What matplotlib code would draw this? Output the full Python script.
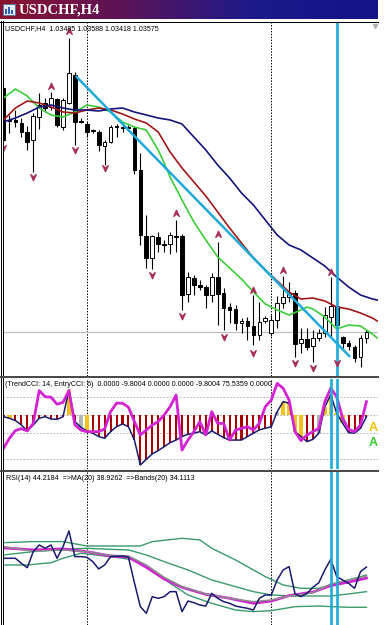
import numpy as np
import matplotlib.pyplot as plt
from matplotlib.path import Path
from matplotlib.lines import Line2D
from matplotlib.patches import Rectangle
from matplotlib.colors import LinearSegmentedColormap

W, H = 386, 625

# ---------------- data ----------------
opens = [1.0601, 1.0569, 1.0569, 1.0566, 1.0557, 1.0549, 1.0572, 1.0586, 1.0582, 1.0590,
         1.0562, 1.0586, 1.0614, 1.0568, 1.0565, 1.0559, 1.0557, 1.0543, 1.0547, 1.0563,
         1.0562, 1.0562, 1.0561, 1.0519, 1.0453, 1.0431, 1.0452, 1.0445, 1.0445, 1.0453,
         1.0453, 1.0395, 1.0411, 1.0404, 1.0402, 1.0394, 1.0412, 1.0396, 1.0382, 1.0380,
         1.0366, 1.0368, 1.0363, 1.0354, 1.0368, 1.0356, 1.0369, 1.0386, 1.0392, 1.0396,
         1.0346, 1.0350, 1.0343, 1.0351, 1.0356, 1.0372, 1.0383, 1.0352, 1.0346, 1.0342,
         1.0332, 1.0351]
highs = [1.0606, 1.0574, 1.0579, 1.0571, 1.0563, 1.0576, 1.0596, 1.0591, 1.0597, 1.0591,
         1.0591, 1.0651, 1.0617, 1.0571, 1.0568, 1.0560, 1.0559, 1.0549, 1.0564, 1.0565,
         1.0564, 1.0564, 1.0563, 1.0536, 1.0474, 1.0454, 1.0457, 1.0449, 1.0457, 1.0469,
         1.0455, 1.0417, 1.0414, 1.0409, 1.0404, 1.0416, 1.0447, 1.0401, 1.0386, 1.0384,
         1.0371, 1.0372, 1.0394, 1.0387, 1.0373, 1.0374, 1.0393, 1.0413, 1.0407, 1.0399,
         1.0361, 1.0361, 1.0359, 1.0360, 1.0382, 1.0412, 1.0386, 1.0353, 1.0349, 1.0344,
         1.0354, 1.0359]
lows = [1.0546, 1.0556, 1.0562, 1.0552, 1.0539, 1.0517, 1.0560, 1.0577, 1.0579, 1.0562,
        1.0559, 1.0585, 1.0544, 1.0566, 1.0552, 1.0556, 1.0538, 1.0524, 1.0546, 1.0552,
        1.0557, 1.0558, 1.0515, 1.0444, 1.0421, 1.0420, 1.0437, 1.0437, 1.0435, 1.0437,
        1.0379, 1.0387, 1.0394, 1.0399, 1.0381, 1.0387, 1.0364, 1.0359, 1.0366, 1.0359,
        1.0356, 1.0349, 1.0344, 1.0349, 1.0366, 1.0353, 1.0361, 1.0381, 1.0387, 1.0332,
        1.0336, 1.0339, 1.0327, 1.0348, 1.0352, 1.0353, 1.0334, 1.0341, 1.0339, 1.0327,
        1.0322, 1.0346]
closes = [1.0549, 1.0568, 1.0567, 1.0557, 1.0547, 1.0573, 1.0584, 1.0581, 1.0591, 1.0564,
          1.0589, 1.0616, 1.0567, 1.0567, 1.0557, 1.0558, 1.0544, 1.0547, 1.0562, 1.0562,
          1.0561, 1.0561, 1.0519, 1.0454, 1.0431, 1.0453, 1.0445, 1.0444, 1.0454, 1.0452,
          1.0394, 1.0412, 1.0404, 1.0402, 1.0394, 1.0412, 1.0395, 1.0381, 1.0379, 1.0366,
          1.0368, 1.0363, 1.0354, 1.0367, 1.0371, 1.0369, 1.0386, 1.0392, 1.0396, 1.0345,
          1.0350, 1.0342, 1.0351, 1.0356, 1.0374, 1.0383, 1.0364, 1.0346, 1.0343, 1.0331,
          1.0351, 1.0357]

# moving averages on price
fast_idx = [0, 2, 4, 6, 8, 10, 12, 14, 16, 18, 20, 22, 24, 26, 27, 28, 30, 32, 34, 36, 38,
            40, 42, 44, 46, 48, 50, 51, 52, 54, 56, 58, 60, 62, 62.8]
fast_ma = [1.0591, 1.0600, 1.0593, 1.0581, 1.0574, 1.0572, 1.0577, 1.0584, 1.0582, 1.0577,
           1.0567, 1.0562, 1.0559, 1.0539, 1.0526, 1.0512, 1.0489, 1.0467, 1.0449, 1.0432,
           1.0421, 1.0410, 1.0397, 1.0385, 1.0379, 1.0374, 1.0379, 1.0382, 1.0380, 1.0372,
           1.0360, 1.0364, 1.0363, 1.0355, 1.0351]
slow_idx = [0, 2, 4, 6, 8, 10, 12, 14, 16, 18, 20, 22, 24, 26, 28, 30, 32, 34, 36, 38, 40,
            42, 44, 46, 48, 50, 52, 54, 56, 58, 60, 62, 62.8]
mid_ma = [1.0569, 1.0581, 1.0588, 1.0586, 1.0582, 1.0577, 1.0576, 1.0579, 1.0581, 1.0579,
          1.0575, 1.0570, 1.0566, 1.0557, 1.0537, 1.0521, 1.0507, 1.0493, 1.0477, 1.0461,
          1.0446, 1.0431, 1.0419, 1.0408, 1.0397, 1.0390, 1.0391, 1.0388, 1.0382, 1.0380,
          1.0376, 1.0371, 1.0368]
slow_ma = [1.0567, 1.0571, 1.0576, 1.0582, 1.0584, 1.0581, 1.0579, 1.0579, 1.0578, 1.0580,
           1.0581, 1.0577, 1.0574, 1.0571, 1.0569, 1.0565, 1.0552, 1.0539, 1.0524, 1.0511,
           1.0496, 1.0484, 1.0469, 1.0454, 1.0444, 1.0439, 1.0431, 1.0423, 1.0412, 1.0402,
           1.0394, 1.0390, 1.0389]

frac_up_bars = [8, 11, 29, 36, 42, 47, 55]
frac_up = [1.0603, 1.0658, 1.0476, 1.04555, 1.03995, 1.04195, 1.0417]
frac_dn_bars = [0, 5, 12, 17, 25, 30, 37, 42, 49, 52, 56]
frac_dn = [1.0541, 1.0512, 1.0539, 1.0521, 1.0414, 1.0373, 1.03525, 1.0336, 1.0326, 1.03215, 1.0326]

trend_bars = [12.3, 58.1]
trend_price = [1.0612, 1.0333]
bid = 1.03575
period_seps = [14, 45]
cyan_main = [56]
cyan_sub = [55, 56]

# CCI panel
trend_cci = [-10, -19, -32, -57, -91, -57, -19, -10, -23, -25,
             -10, 142, -38, -70, -91, -104, -123, -133, -95, -67,
             -51, -67, -143, -285, -253, -222, -203, -181, -158, -143,
             -123, -110, -104, -95, -114, -91, -110, -129, -143, -143,
             -143, -123, -104, -85, -76, -67, 19, 76, 67, -95,
             -123, -152, -139, -104, 47, 114, 10, -47, -101, -104,
             -76, -10]
entry_cci = [-190, -133, -89, -78, -91, -48, 139, 104, 101, 61,
             72, 139, -57, -86, -95, -95, -95, -80, 19, 67,
             67, 44, -38, -114, -86, -57, -38, 0, 47, 114,
             -200, -143, -95, -38, -114, 19, -48, -48, -143, -86,
             -76, -67, -86, -48, 47, 85, 180, 152, 85, -95,
             -146, -114, -95, -76, 76, 152, 104, -19, -82, -95,
             -57, 76]
hist_state = "ry" + "r" * 9 + "yrgy" + "r" * 31 + "gyyyyrrgyyyy" + "r" * 4
cci_levels = [100, 0, -100, -250]

# RSI panel
rsi = [48.4, 48.4, 48.4, 46.0, 43.9, 51.6, 54.8, 53.2, 54.8, 48.4,
       54.0, 61.5, 49.2, 49.2, 48.9, 46.8, 43.3, 45.2, 49.2, 49.4,
       49.5, 48.9, 36.7, 25.2, 22.0, 30.0, 29.2, 30.0, 32.4, 32.4,
       22.8, 27.9, 27.1, 26.0, 25.5, 31.6, 29.2, 27.6, 26.8, 25.5,
       24.9, 24.4, 23.6, 29.2, 30.8, 30.8, 38.0, 42.8, 44.4, 31.3,
       30.0, 31.6, 34.5, 36.7, 42.8, 47.9, 39.6, 38.0, 36.4, 34.0,
       42.0, 44.2]
rsi_ma_idx = [0, 5, 10, 14, 18, 21, 24, 27, 30, 34, 38, 42, 45, 48, 52, 55, 58, 61]
rsi_ma = [53.4, 52.4, 52.9, 51.6, 49.5, 49.0, 44.1, 38.5, 34.5, 31.1, 29.2, 26.8, 27.9,
          30.5, 32.2, 35.3, 37.0, 38.9]
rsi_base = [54.0, 51.8, 52.4, 51.6, 49.8, 49.5, 45.2, 39.3, 34.8, 31.3, 29.2, 27.6, 28.4,
            30.3, 31.9, 36.1, 38.0, 39.9]
up_idx = [0, 5, 10, 14, 18, 23, 25, 30, 33, 35, 39, 42, 44, 47, 50, 53, 55, 58, 61]
band_up = [55.9, 56.4, 56.4, 54.3, 54.3, 54.3, 56.4, 58.0, 57.2, 53.2, 47.6, 42.8, 39.6,
           35.6, 34.0, 34.0, 35.6, 38.0, 40.4]
md_idx = [0, 5, 10, 14, 18, 21, 24, 27, 31, 35, 39, 42, 45, 49, 53, 55, 58, 61]
band_md = [50.0, 51.6, 52.7, 53.2, 52.7, 52.4, 50.0, 46.8, 42.8, 38.0, 34.8, 32.4, 30.8,
           30.3, 30.3, 30.3, 31.3, 32.4]
lo_idx = [0, 4, 8, 10, 13, 18, 22, 25, 28, 31, 35, 39, 42, 45, 49, 53, 55, 58, 61]
band_lo = [45.2, 45.2, 46.3, 48.4, 50.8, 49.2, 47.6, 42.8, 36.4, 30.8, 26.8, 23.6, 22.8,
           23.3, 25.2, 25.5, 25.2, 24.9, 24.9]

header_main = "USDCHF,H4  1.03485 1.03588 1.03418 1.03575"
header_cci = "(TrendCCI: 14, EntryCCI: 6)  0.0000 -9.8004 0.0000 0.0000 -9.8004 75.5359 0.0000"
header_rsi = "RSI(14) 44.2184  =>MA(20) 38.9262  =>Bands(20) 34.1113"

# ---------------- drawing ----------------
small_font = 'Liberation Sans'
CYAN = '#1fa9d9'
XLIM = (-0.084, 62.94)

fig = plt.figure(figsize=(W / 100, H / 100), dpi=100)
fig.patch.set_facecolor('white')


def px_axes(x0, y0, x1, y1):
    ax = fig.add_axes([x0 / W, 1 - y1 / H, (x1 - x0) / W, (y1 - y0) / H])
    ax.set_axis_off()
    return ax


def fig_line(xs, ys, color, lw_px):
    fig.add_artist(Line2D([x / W for x in xs], [1 - y / H for y in ys],
                          transform=fig.transFigure, color=color, lw=lw_px * 0.72))


# title bar
tax = px_axes(0, 0, 378, 19)
grad = LinearSegmentedColormap.from_list('tb', ['#8a1230', '#5a1458', '#1c1a8a', '#141488'])
tax.imshow(np.linspace(0, 1, 256)[None, :], cmap=grad, aspect='auto', extent=(0, 378, 19, 0))
tax.set_xlim(0, 378)
tax.set_ylim(19, 0)
tax.add_patch(Rectangle((3, 4), 12, 11, facecolor='#e4ecf6', edgecolor='#5070a8', lw=0.6))
tax.add_patch(Rectangle((5, 9), 2, 5, facecolor='#3060c0', lw=0))
tax.add_patch(Rectangle((8, 7), 2, 7, facecolor='#3060c0', lw=0))
tax.add_patch(Rectangle((11, 10), 2, 4, facecolor='#3060c0', lw=0))
tax.text(19, 10, "USDCHF,H4", color='white', fontsize=10.5, fontweight='bold',
         family='Liberation Serif', va='center', ha='left')

# ---- main price panel
ax = px_axes(3, 22, 378, 376)
ax.set_xlim(*XLIM)
ax.set_ylim(1.0313, 1.0667)
bars = np.arange(len(opens))
o = np.array(opens)
c = np.array(closes)
for x in period_seps:
    ax.axvline(x, color='black', lw=0.7, ls=(0, (1.5, 1.5)), zorder=1)
ax.axhline(bid, color='#bdbdbd', lw=0.8, zorder=1)
ax.vlines(bars, lows, highs, color='black', lw=0.8, zorder=2)
body_col = ['black' if cc < oo else 'white' for oo, cc in zip(o, c)]
ax.bar(bars, np.abs(c - o), bottom=np.minimum(o, c), width=0.62, color=body_col,
       edgecolor='black', linewidth=0.7, zorder=3)
ax.plot(fast_idx, fast_ma, color='#3ccc3c', lw=1.2, zorder=4)
ax.plot(slow_idx, mid_ma, color='#a01818', lw=1.2, zorder=4)
ax.plot(slow_idx, slow_ma, color='#14147a', lw=1.2, zorder=4)
ax.plot(trend_bars, trend_price, color=CYAN, lw=1.8, zorder=5)
for x in cyan_main:
    ax.axvline(x, color=CYAN, lw=1.9, zorder=5)

up_mark = Path([(0, 1), (0.85, -0.9), (0, -0.1), (-0.85, -0.9), (0, 1)],
               [Path.MOVETO, Path.LINETO, Path.LINETO, Path.LINETO, Path.CLOSEPOLY])
dn_mark = Path([(0, -1), (0.85, 0.9), (0, 0.1), (-0.85, 0.9), (0, -1)],
               [Path.MOVETO, Path.LINETO, Path.LINETO, Path.LINETO, Path.CLOSEPOLY])
ax.plot(frac_up_bars, frac_up, ls='none', marker=up_mark, ms=4.6, color='#a8305a', zorder=6)
ax.plot(frac_dn_bars, frac_dn, ls='none', marker=dn_mark, ms=4.6, color='#a8305a', zorder=6)

fig.text(5 / W, 1 - 25 / H, header_main, fontsize=5.1, family=small_font,
         va='top', ha='left', color='black')
fig.add_artist(Line2D([375 / W], [1 - 25.5 / H], transform=fig.transFigure, ls='none',
                      marker='v', ms=3, color='#b0b0b0'))

# ---- CCI panel
cax = px_axes(3, 379, 378, 469)
cax.set_xlim(*XLIM)
cax.set_ylim(-308, 205)
for lev in cci_levels:
    cax.axhline(lev, color='#a8a8a8', lw=0.6, ls=(0, (2, 2)), zorder=1)
for x in period_seps:
    cax.axvline(x, color='black', lw=0.7, ls=(0, (1.5, 1.5)), zorder=1)
state_col = {'r': '#a80000', 'y': '#f2c21a', 'g': '#b4b4b4'}
state_w = {'r': 0.34, 'y': 0.75, 'g': 0.75}
cax.bar(bars, trend_cci, width=[state_w[s] for s in hist_state],
        color=[state_col[s] for s in hist_state], zorder=2)
cax.plot(bars, trend_cci, color='#1a1a70', lw=1.1, zorder=3)
cax.plot(bars, entry_cci, color='#d224d2', lw=2.0, zorder=4)
for x in cyan_sub:
    cax.axvline(x, color=CYAN, lw=1.9, zorder=5)
cax.text(62.2, -74, "A", color='#f2c200', fontsize=9, fontweight='bold',
         family='Liberation Sans', ha='center', va='center', zorder=6)
cax.text(62.2, -158, "A", color='#30cc30', fontsize=9, fontweight='bold',
         family='Liberation Sans', ha='center', va='center', zorder=6)
fig.text(5 / W, 1 - 381.5 / H, header_cci, fontsize=5.1, family=small_font,
         va='top', ha='left', color='black')

# ---- RSI panel
rax = px_axes(3, 472, 378, 625)
rax.set_xlim(*XLIM)
rax.set_ylim(16.4, 89.8)
for x in period_seps:
    rax.axvline(x, color='black', lw=0.7, ls=(0, (1.5, 1.5)), zorder=1)
rax.plot(up_idx, band_up, color='#3a9a6c', lw=1.0, zorder=2)
rax.plot(md_idx, band_md, color='#3a9a6c', lw=1.0, zorder=2)
rax.plot(lo_idx, band_lo, color='#3a9a6c', lw=1.0, zorder=2)
rax.plot(rsi_ma_idx, rsi_ma, color='#d024d0', lw=2.0, zorder=3)
rax.plot(rsi_ma_idx, rsi_base, color='#8c8c8c', lw=1.1, zorder=4)
rax.plot(bars, rsi, color='#1a1a70', lw=1.1, zorder=5)
for x in cyan_sub:
    rax.axvline(x, color=CYAN, lw=1.9, zorder=6)
fig.text(6 / W, 1 - 474.5 / H, header_rsi, fontsize=5.1, family=small_font,
         va='top', ha='left', color='black')

# frame and panel separators
fig_line([0, 378], [21.5, 21.5], 'black', 1)
fig_line([0.5, 0.5], [21, 625], 'black', 1)
fig_line([2.5, 2.5], [21, 625], 'black', 1)
fig_line([0, 378], [377, 377], '#4a4a4a', 2)
fig_line([0, 378], [470.5, 470.5], '#4a4a4a', 2)

fig.savefig('out.png', dpi=100, facecolor='white')
